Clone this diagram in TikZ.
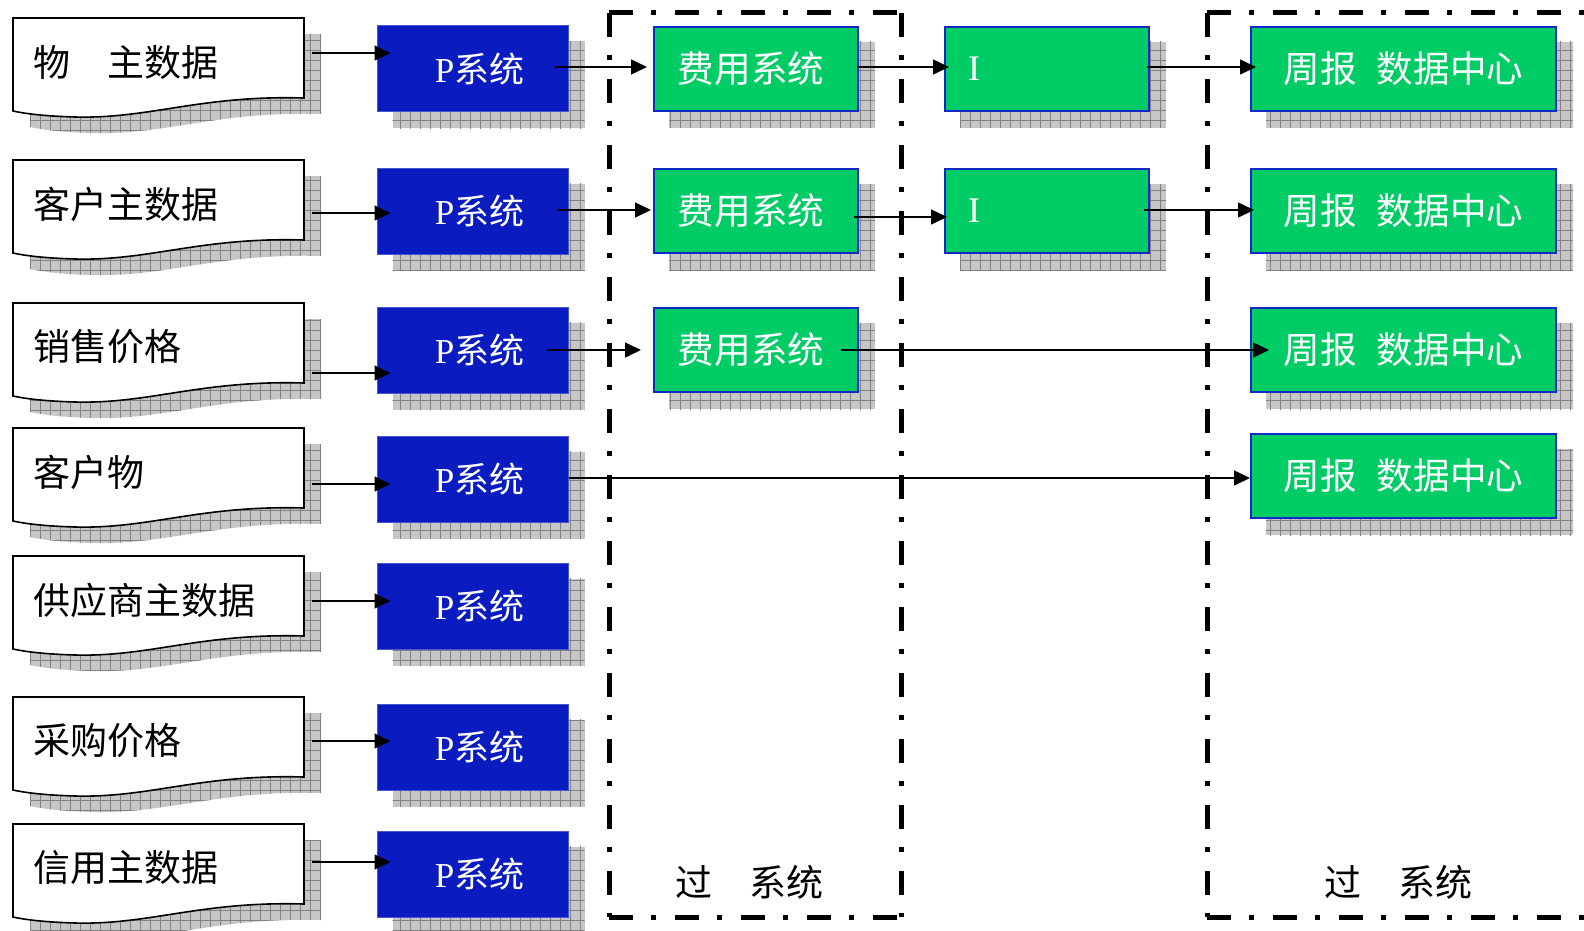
\documentclass[tikz,border=0pt]{standalone}
\usepackage{fontspec}
\newfontfamily\cjk{Noto Sans CJK SC}
\newfontfamily\lser{Liberation Serif}
\usetikzlibrary{patterns.meta,arrows.meta,calc}
\definecolor{pblue}{RGB}{10,28,192}
\definecolor{pgreen}{RGB}{0,204,102}
\definecolor{gborder}{RGB}{20,40,200}
\definecolor{shfill}{RGB}{198,198,198}
\definecolor{shline}{RGB}{130,130,130}
\pgfdeclarelayer{bg}
\pgfdeclarelayer{bgbase}
\pgfsetlayers{bgbase,bg,main}
\newcommand\docoutline{(0,0) -- (291,0) -- (291,80)
     .. controls (187,77) and (137,101) .. (62,99)
     .. controls (27,98) and (9,95) .. (0,93) -- cycle}
\tikzset{
  shadowbox/.style={fill=shfill, postaction={pattern={Hatch[distance=5pt,angle=0,line width=0.5pt]}, pattern color=shline}},
  docfill/.style={fill=white, draw=black, line width=0.8pt},
  doctext/.style={anchor=west, font=\cjk\fontsize{18.5pt}{20pt}\selectfont, inner sep=0pt},
  pbox/.style={fill=pblue, draw=pblue!75!white, line width=0.5pt, minimum width=95.5pt, minimum height=43pt, inner sep=0pt, text=white, font=\fontsize{17.5pt}{19pt}\selectfont},
  gbox/.style={fill=pgreen, draw=gborder, line width=1pt, minimum width=102pt, minimum height=42pt, inner sep=0pt, text=white, font=\cjk\fontsize{18.3pt}{20pt}\selectfont},
  arr/.style={line width=0.75pt, -{Triangle[length=8pt,width=7.5pt]}},
  frame/.style={line width=2.5pt, dash pattern=on 12pt off 9pt on 2.5pt off 9.5pt},
  lbl/.style={font=\cjk\fontsize{18.5pt}{20pt}\selectfont, inner sep=0pt}
}
\begin{document}
\begin{tikzpicture}[x=0.5pt,y=-0.5pt]
\clip (0,0) rectangle (1584,931);
\begin{pgfonlayer}{bgbase}
  \fill[white] (0,0) rectangle (1584,931);
\end{pgfonlayer}

% left column: documents and P systems
\foreach \n/\T/\B/\Y/\txt in {1/18/26/53/{物　主数据}, 2/160/168/213/{客户主数据}, 3/303/307/373/{销售价格}, 4/428/436/484/{客户物}, 5/556/563/601/{供应商主数据}, 6/697/704/741/{采购价格}, 7/824/831/862/{信用主数据}}{
  \begin{pgfonlayer}{bg}
    \path[shadowbox, shift={(30,\T+16)}] \docoutline;
  \end{pgfonlayer}
  \path[docfill, shift={(13,\T)}] \docoutline;
  \node[doctext] (t\n) at (33,\T+44) {\txt};
  \node[pbox] (P\n) at (472.5,\B+43) {\hspace*{7pt}{\lser P}{\cjk 系统}};
  \begin{pgfonlayer}{bg}
    \path[shadowbox] ($(P\n.north west)+(16,16)$) rectangle ($(P\n.south east)+(16,16)$);
  \end{pgfonlayer}
  \coordinate (s\n) at (312,\Y);
  \draw[arr] (s\n) -- ($(P\n.west |- s\n)+(14,0)$);
}

% fee systems
\node[gbox] (F1) at (756,69) {\hspace*{-5pt}费用系统};
\node[gbox] (F2) at (756,211) {\hspace*{-5pt}费用系统};
\node[gbox] (F3) at (756,350) {\hspace*{-5pt}费用系统};
% I boxes
\node[gbox, text width=79pt, align=left, font=\lser\fontsize{18pt}{20pt}\selectfont] (I1) at (1047,69) {I};
\node[gbox, text width=79pt, align=left, font=\lser\fontsize{18pt}{20pt}\selectfont] (I2) at (1047,211) {I};
% weekly report boxes
\node[gbox, minimum width=152.5pt] (W1) at (1403.5,69) {周报\hspace{0.55em}数据中心};
\node[gbox, minimum width=152.5pt] (W2) at (1403.5,211) {周报\hspace{0.55em}数据中心};
\node[gbox, minimum width=152.5pt] (W3) at (1403.5,350) {周报\hspace{0.55em}数据中心};
\node[gbox, minimum width=152.5pt] (W4) at (1403.5,476) {周报\hspace{0.55em}数据中心};

\begin{pgfonlayer}{bg}
  \foreach \b in {F1,F2,F3,I1,I2,W1,W2,W3,W4}{
    \path[shadowbox] ($(\b.north west)+(16,16)$) rectangle ($(\b.south east)+(16,16)$);
  }
\end{pgfonlayer}

% frames
\draw[frame] (609,13) -- (901,13);
\draw[frame] (609,13) -- (609,917);
\draw[frame] (901,13) -- (901,917);
\draw[frame] (609,917) -- (901,917);
\draw[frame] (1207,13) -- (1600,13);
\draw[frame] (1207,13) -- (1207,917);
\draw[frame] (1207,917) -- (1600,917);
\node[lbl] (L1) at (749,882) {过　系统};
\node[lbl] (L2) at (1398,882) {过　系统};

% connectors
\coordinate (r1) at (0,67);
\coordinate (r2) at (0,210);
\coordinate (r2b) at (0,217);
\coordinate (r3) at (0,350);
\coordinate (r4) at (0,478);
\draw[arr] ($(P1.east |- r1)+(-14,0)$) -- ($(F1.west |- r1)+(-6,0)$);
\draw[arr] ($(P2.east |- r2)+(-12,0)$) -- ($(F2.west |- r2)+(-2,0)$);
\draw[arr] ($(P3.east |- r3)+(-22,0)$) -- ($(F3.west |- r3)+(-12,0)$);
\draw[arr] ($(F1.east |- r1)+(-2,0)$) -- ($(I1.west |- r1)+(5,0)$);
\draw[arr] ($(F2.east |- r2b)+(-5,0)$) -- ($(I2.west |- r2b)+(3,0)$);
\draw[arr] ($(I1.east |- r1)+(-3,0)$) -- ($(W1.west |- r1)+(6,0)$);
\draw[arr] ($(I2.east |- r2)+(-6,0)$) -- ($(W2.west |- r2)+(4,0)$);
\draw[arr] ($(F3.east |- r3)+(-18,0)$) -- ($(W3.west |- r3)+(19,0)$);
\draw[arr] (P4.east |- r4) -- (W4.west |- r4);
\end{tikzpicture}
\end{document}
